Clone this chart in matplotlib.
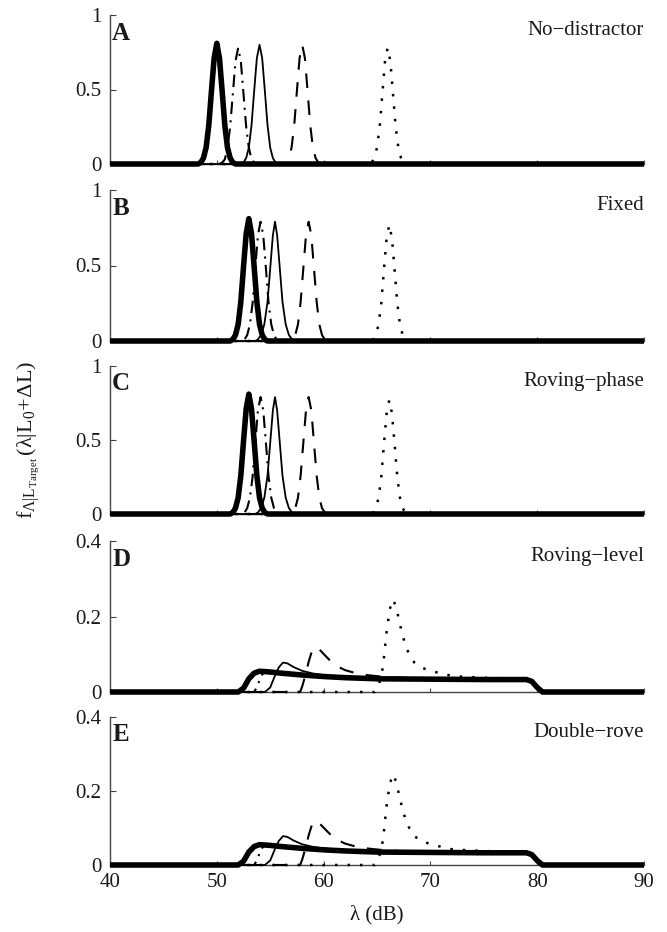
import matplotlib
matplotlib.use('Agg')
import matplotlib.pyplot as plt

plt.rcParams['font.family'] = ['Liberation Serif', 'DejaVu Serif']
plt.rcParams['mathtext.fontset'] = 'custom'
plt.rcParams['mathtext.rm'] = 'Liberation Serif'
plt.rcParams['mathtext.it'] = 'Liberation Serif:italic'
plt.rcParams['mathtext.default'] = 'regular'

# ---- data ----
panel_letters = ['A', 'B', 'C', 'D', 'E']
panel_names = ['No\u2212distractor', 'Fixed', 'Roving\u2212phase', 'Roving\u2212level', 'Double\u2212rove']
panel_ymax = [1, 1, 1, 0.4, 0.4]
panel_yticks = [[0, 0.5, 1], [0, 0.5, 1], [0, 0.5, 1], [0, 0.2, 0.4], [0, 0.2, 0.4]]
panel_yticklabels = [['0', '0.5', '1'], ['0', '0.5', '1'], ['0', '0.5', '1'],
                     ['0', '0.2', '0.4'], ['0', '0.2', '0.4']]
x_ticks = [40, 50, 60, 70, 80, 90]

# panel A (no distractor)
a_thick_x = [40, 48.25, 48.5, 48.75, 49, 49.25, 49.5, 49.75, 50, 50.25, 50.5, 50.75, 51, 51.25, 51.5, 51.75, 90]
a_thick_y = [0, 0, 0.01, 0.04, 0.11, 0.26, 0.49, 0.71, 0.81, 0.71, 0.49, 0.26, 0.11, 0.04, 0.01, 0, 0]
a_dashdot_x = [40, 50.25, 50.5, 50.75, 51, 51.25, 51.5, 51.75, 52, 52.25, 52.5, 52.75, 53, 53.25, 53.5, 53.75, 90]
a_dashdot_y = [0, 0, 0.01, 0.03, 0.11, 0.25, 0.47, 0.69, 0.78, 0.69, 0.47, 0.25, 0.11, 0.03, 0.01, 0, 0]
a_thin_x = [40, 52.25, 52.5, 52.75, 53, 53.25, 53.5, 53.75, 54, 54.25, 54.5, 54.75, 55, 55.25, 55.5, 55.75, 90]
a_thin_y = [0, 0, 0.01, 0.04, 0.11, 0.26, 0.49, 0.71, 0.80, 0.71, 0.49, 0.26, 0.11, 0.04, 0.01, 0, 0]
a_dashed_x = [40, 56.25, 56.5, 56.75, 57, 57.25, 57.5, 57.75, 58, 58.25, 58.5, 58.75, 59, 59.25, 59.5, 59.75, 90]
a_dashed_y = [0, 0, 0.01, 0.04, 0.11, 0.26, 0.49, 0.71, 0.80, 0.71, 0.49, 0.26, 0.11, 0.04, 0.01, 0, 0]
a_dotted_x = [40, 64.25, 64.5, 64.75, 65, 65.25, 65.5, 65.75, 66, 66.25, 66.5, 66.75, 67, 67.25, 67.5, 67.75, 90]
a_dotted_y = [0, 0, 0.01, 0.04, 0.11, 0.25, 0.47, 0.69, 0.78, 0.69, 0.47, 0.25, 0.11, 0.04, 0.01, 0, 0]

# panels B and C (fixed / roving-phase)
b_thick_x = [40, 51.25, 51.5, 51.75, 52, 52.25, 52.5, 52.75, 53, 53.25, 53.5, 53.75, 54, 54.25, 54.5, 54.75, 90]
b_thick_y = [0, 0, 0.01, 0.04, 0.11, 0.26, 0.49, 0.71, 0.81, 0.71, 0.49, 0.26, 0.11, 0.04, 0.01, 0, 0]
b_dashdot_x = [40, 52.35, 52.6, 52.85, 53.1, 53.35, 53.6, 53.85, 54.1, 54.35, 54.6, 54.85, 55.1, 55.35, 55.6, 55.85, 90]
b_dashdot_y = [0, 0, 0.01, 0.04, 0.11, 0.25, 0.48, 0.70, 0.79, 0.70, 0.48, 0.25, 0.11, 0.04, 0.01, 0, 0]
b_thin_x = [40, 53.6, 53.85, 54.15, 54.45, 54.75, 55.0, 55.25, 55.45, 55.65, 55.9, 56.15, 56.45, 56.75, 57.05, 57.3, 90]
b_thin_y = [0, 0, 0.01, 0.04, 0.11, 0.26, 0.48, 0.70, 0.79, 0.70, 0.48, 0.26, 0.11, 0.04, 0.01, 0, 0]
b_dashed_x = [40, 56.85, 57.1, 57.35, 57.6, 57.85, 58.1, 58.35, 58.6, 58.85, 59.1, 59.35, 59.6, 59.85, 60.1, 60.35, 90]
b_dashed_y = [0, 0, 0.01, 0.04, 0.11, 0.26, 0.48, 0.70, 0.79, 0.70, 0.48, 0.26, 0.11, 0.04, 0.01, 0, 0]
b_dotted_x = [40, 64.4, 64.65, 64.9, 65.15, 65.4, 65.65, 65.9, 66.15, 66.4, 66.65, 66.9, 67.15, 67.4, 67.65, 67.9, 90]
b_dotted_y = [0, 0, 0.01, 0.04, 0.11, 0.25, 0.47, 0.68, 0.77, 0.68, 0.47, 0.25, 0.11, 0.04, 0.01, 0, 0]

# panels D and E (roving-level / double-rove)
d_thick_x = [40, 52.0, 52.5, 53.0, 53.5, 54.0, 55, 56, 58, 60, 62, 65, 70, 75, 79.0, 79.5, 80.0, 80.5, 90]
d_thick_y = [0, 0, 0.01, 0.035, 0.05, 0.055, 0.053, 0.05, 0.045, 0.041, 0.038, 0.035, 0.034, 0.033, 0.033, 0.028, 0.012, 0, 0]
d_dashdot_x = [40, 53.5, 53.8, 54.1, 54.4, 54.8, 55.5, 56.5, 58, 60, 65, 70, 79, 79.5, 80, 80.5, 90]
d_dashdot_y = [0, 0, 0.015, 0.04, 0.052, 0.054, 0.052, 0.049, 0.045, 0.041, 0.035, 0.034, 0.033, 0.028, 0.012, 0, 0]
d_thin_x = [40, 54.5, 55.0, 55.4, 55.8, 56.2, 56.6, 57.2, 58, 59, 60, 62, 65, 70, 79, 79.5, 80, 80.5, 90]
d_thin_y = [0, 0, 0.012, 0.04, 0.065, 0.078, 0.076, 0.066, 0.056, 0.049, 0.045, 0.04, 0.036, 0.034, 0.033, 0.028, 0.012, 0, 0]
d_dashed_x = [40, 57.8, 58.0, 58.3, 58.6, 58.9, 59.2, 59.6, 60.2, 61, 62, 63, 64, 66, 70, 79, 79.5, 80, 80.5, 90]
d_dashed_y = [0, 0, 0.015, 0.045, 0.08, 0.108, 0.12, 0.113, 0.095, 0.072, 0.058, 0.05, 0.045, 0.039, 0.035, 0.033, 0.028, 0.012, 0, 0]
d_dotted_x = [40, 64.8, 65.1, 65.4, 65.6, 65.9, 66.2, 66.5, 66.8, 67.1, 67.4, 67.7, 68.1, 68.5, 69.2, 70.3, 72.1, 74.9, 79, 79.5, 80, 80.5, 90]
d_dotted_y = [0, 0, 0.015, 0.04, 0.077, 0.16, 0.22, 0.245, 0.225, 0.185, 0.15, 0.12, 0.095, 0.078, 0.064, 0.054, 0.042, 0.038, 0.034, 0.028, 0.012, 0, 0]

a_curves = [(a_thick_x, a_thick_y), (a_dashdot_x, a_dashdot_y), (a_thin_x, a_thin_y),
            (a_dashed_x, a_dashed_y), (a_dotted_x, a_dotted_y)]
b_curves = [(b_thick_x, b_thick_y), (b_dashdot_x, b_dashdot_y), (b_thin_x, b_thin_y),
            (b_dashed_x, b_dashed_y), (b_dotted_x, b_dotted_y)]
d_curves = [(d_thick_x, d_thick_y), (d_dashdot_x, d_dashdot_y), (d_thin_x, d_thin_y),
            (d_dashed_x, d_dashed_y), (d_dotted_x, d_dotted_y)]
panel_curves = [a_curves, b_curves, b_curves, d_curves, d_curves]

# ---- styling ----
# order: thick solid, dash-dot, thin solid, dashed, dotted (thick one on top)
curve_styles = [
    dict(linestyle='-', linewidth=4.0, zorder=6),
    dict(linestyle=(0, (6, 3, 1, 3)), linewidth=1.5, zorder=4),
    dict(linestyle='-', linewidth=1.3, zorder=4),
    dict(linestyle=(0, (7, 6)), linewidth=1.5, zorder=4),
    dict(linestyle=(0, (1, 4)), linewidth=1.8, zorder=4),
]
AXIS_COLOR = '#444444'
TEXT_COLOR = '#1a1a1a'
FS = 15

W, H = 667, 932
ax_left, ax_right = 110, 644
ax_tops = [15, 190, 366, 541, 717]
ax_bottoms = [164, 341, 514, 692, 865]

fig = plt.figure(figsize=(W / 100, H / 100), dpi=100)

for i in range(5):
    rect = [ax_left / W, 1 - ax_bottoms[i] / H, (ax_right - ax_left) / W, (ax_bottoms[i] - ax_tops[i]) / H]
    ax = fig.add_axes(rect)
    for (xs, ys), style in zip(panel_curves[i], curve_styles):
        ax.plot(xs, ys, color='black', clip_on=False, solid_capstyle='butt',
                dash_capstyle='butt', **style)
    ax.set_xlim(40, 90)
    ax.set_ylim(0, panel_ymax[i])
    ax.set_yticks(panel_yticks[i])
    ax.set_yticklabels(panel_yticklabels[i])
    ax.set_xticks(x_ticks)
    if i < 4:
        ax.set_xticklabels([])
    ax.tick_params(direction='in', length=4, width=0.8, colors=AXIS_COLOR,
                   labelcolor=TEXT_COLOR, labelsize=FS, pad=6)
    ax.tick_params(axis='x', length=3)
    for side in ['top', 'right']:
        ax.spines[side].set_visible(False)
    for side in ['left', 'bottom']:
        ax.spines[side].set_color(AXIS_COLOR)
        ax.spines[side].set_linewidth(1.0)
        ax.spines[side].set_zorder(1)
    ax.patch.set_alpha(0)
    ax.text(0.004, 0.835, panel_letters[i], transform=ax.transAxes, ha='left', va='baseline',
            fontsize=18, fontweight='bold', color=TEXT_COLOR)
    ax.text(1.0, 0.865, panel_names[i], transform=ax.transAxes, ha='right', va='baseline',
            fontsize=FS, color=TEXT_COLOR)

fig.text((ax_left + ax_right) / 2 / W, 1 - 915 / H, '\u03bb (dB)', ha='center', va='center',
         fontsize=FS, color=TEXT_COLOR)
fig.text(28 / W, 1 - 440 / H,
         r'$\mathrm{f}_{\Lambda|\mathrm{L}_{\mathrm{Target}}}\,(\lambda|\mathrm{L}_{0}\!+\!\Delta\mathrm{L})$',
         rotation=90, ha='center', va='center', fontsize=FS + 1, color=TEXT_COLOR)

fig.savefig('out.png', dpi=100)
